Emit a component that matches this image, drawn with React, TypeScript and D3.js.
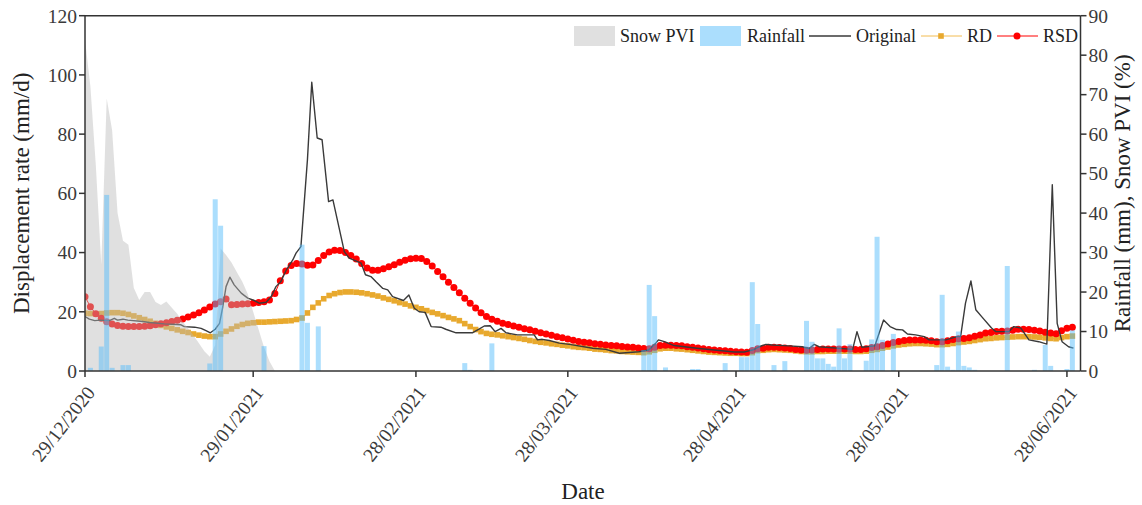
import React from "react";
import * as d3 from "d3";

// ---------- DATA ----------
const startDate = "29/12/2020";
const xTickLabels = ["29/12/2020", "29/01/2021", "28/02/2021", "28/03/2021", "28/04/2021", "28/05/2021", "28/06/2021"];
const leftTicks = [0, 20, 40, 60, 80, 100, 120];
const rightTicks = [0, 10, 20, 30, 40, 50, 60, 70, 80, 90];

// RD (daily, mm/d) from day 0 = 29/12/2020
const rdValues = [
  19.5, 19.4, 19.3, 19.4, 19.6, 19.7, 19.7, 19.5, 19.1, 18.6,
  18.0, 17.4, 16.8, 16.1, 15.4, 14.9, 14.4, 13.9, 13.4, 13.0,
  12.5, 12.1, 11.8, 11.6, 11.6, 12.5, 13.4, 14.2, 15.1, 15.7,
  16.1, 16.3, 16.5, 16.5, 16.6, 16.7, 16.8, 16.9, 17.0, 17.4,
  17.9, 19.6, 21.5, 23.0, 24.4, 25.5, 26.1, 26.5, 26.7, 26.7,
  26.6, 26.4, 26.1, 25.7, 25.3, 24.7, 24.2, 23.7, 23.1, 22.6,
  22.0, 21.5, 21.0, 20.4, 19.8, 19.3, 18.7, 18.1, 17.6, 17.0,
  16.0, 15.0, 14.0, 13.3, 12.7, 12.4, 12.2, 11.9, 11.6, 11.3,
  11.0, 10.7, 10.3, 10.0, 9.7, 9.5, 9.2, 9.0, 8.7, 8.5,
  8.2, 8.0, 7.9, 7.7, 7.4, 7.3, 7.1, 6.9, 6.8, 6.6,
  6.5, 6.4, 6.3, 6.2, 6.5, 7.0, 7.5, 7.7, 7.7, 7.5,
  7.4, 7.2, 7.0, 6.8, 6.6, 6.4, 6.3, 6.2, 6.1, 6.0,
  6.0, 5.9, 5.9, 6.2, 6.9, 7.0, 7.2, 7.3, 7.2, 7.1,
  7.0, 6.8, 6.6, 6.5, 6.5, 6.6, 6.6, 6.7, 6.7, 6.7,
  6.7, 6.7, 6.6, 6.6, 6.7, 7.0, 7.3, 7.7, 8.1, 8.5,
  8.8, 9.0, 9.2, 9.3, 9.3, 9.2, 9.1, 8.9, 8.9, 9.0,
  9.3, 9.6, 9.8, 10.0, 10.3, 10.6, 10.9, 11.0, 11.2, 11.3,
  11.4, 11.5, 11.6, 11.6, 11.6, 11.5, 11.4, 11.2, 11.0, 10.9,
  11.3, 11.6, 11.8,
];

// RSD (daily, mm/d)
const rsdValues = [
  25.1, 21.7, 19.3, 17.8, 16.6, 15.9, 15.4, 15.1, 15.0, 15.0,
  15.0, 15.1, 15.3, 15.6, 16.0, 16.3, 16.7, 17.1, 17.6, 18.2,
  18.9, 19.7, 20.6, 21.6, 22.6, 23.4, 24.3, 22.4, 22.5, 22.6,
  22.7, 22.9, 23.1, 23.4, 24.0, 26.2, 30.5, 33.8, 35.6, 36.3,
  36.1, 35.7, 35.8, 37.3, 39.0, 40.2, 40.8, 40.7, 40.0, 39.0,
  37.8, 36.3, 34.8, 34.0, 34.0, 34.5, 35.2, 35.9, 36.7, 37.4,
  37.9, 38.1, 38.0, 37.0, 35.5, 33.6, 31.8, 30.0, 28.2, 26.4,
  24.6, 22.9, 21.3, 19.7, 18.4, 17.5, 16.8, 16.1, 15.7, 15.2,
  14.8, 14.3, 13.9, 13.4, 12.9, 12.5, 12.1, 11.6, 11.2, 10.8,
  10.4, 10.0, 9.7, 9.5, 9.2, 9.0, 8.8, 8.6, 8.5, 8.3,
  8.1, 8.0, 7.8, 7.6, 7.5, 8.0, 8.6, 8.7, 8.7, 8.6,
  8.5, 8.2, 8.0, 7.8, 7.5, 7.3, 7.1, 6.9, 6.8, 6.7,
  6.5, 6.4, 6.3, 6.9, 7.5, 7.7, 8.0, 8.0, 7.9, 7.8,
  7.6, 7.3, 7.1, 7.0, 7.1, 7.3, 7.4, 7.4, 7.4, 7.4,
  7.4, 7.4, 7.3, 7.3, 7.5, 7.9, 8.2, 8.6, 9.1, 9.6,
  10.0, 10.3, 10.5, 10.5, 10.5, 10.4, 10.2, 9.9, 9.9, 10.2,
  10.6, 10.9, 11.0, 11.2, 11.7, 12.2, 12.8, 13.0, 13.3, 13.4,
  13.5, 13.8, 14.1, 14.1, 14.0, 13.8, 13.5, 13.1, 12.8, 12.6,
  13.6, 14.4, 14.8,
];

// Original (irregular sampling): day offset and value (mm/d)
const origDays = [
  0, 0.8, 1.8, 2.7, 4.5, 5.4, 6.0, 7.0, 7.9, 10.6, 11.9, 14.6, 17.7, 18.3, 20.2, 21.4, 22.3, 23.1, 24.0, 24.8,
  25.4, 26.0, 26.7, 27.5, 28.8, 30.0, 31.2, 32.1, 33.4, 34.3, 35.2, 36.1, 37.1, 38.3, 38.9, 39.8, 41.0, 41.8, 42.8, 43.7,
  44.9, 45.7, 47.8, 48.7, 50.9, 51.7, 52.7, 53.6, 54.9, 55.8, 56.7, 58.7, 59.7, 60.7, 61.6, 62.7, 63.8, 65.6, 66.5, 68.4,
  71.4, 72.7, 73.6, 74.7, 75.6, 76.7, 77.6, 79.7, 82.8, 83.4, 84.3, 85.6, 87.4, 89.3, 93.6, 96.0, 98.5, 102.1, 103.9, 105.2,
  105.7, 106.8, 108.6, 113.2, 119.7, 121.5, 123.3, 124.3, 125.5, 126.7, 129.8, 132.2, 133.5, 134.4, 135.3, 141.5, 142.3, 143.2, 145.6, 147.2,
  148.4, 149.6, 150.7, 151.6, 153.1, 154.7, 155.6, 158.7, 160.7, 161.4, 162.3, 163.3, 164.2, 165.4, 167.1, 167.9, 170.3, 171.2, 172.5, 174.0,
  175.8, 177.3, 178.3, 179.2, 180.1, 181.3, 182.2,
];
const origValues = [
  18.4, 17.5, 17.0, 17.2, 17.0, 17.8, 17.2, 17.5, 17.2, 16.7, 16.4, 15.9, 15.6, 15.0, 14.8, 14.4, 13.6, 12.9, 14.1, 16.1,
  21.7, 28.5, 31.7, 29.1, 26.3, 24.6, 23.8, 22.9, 23.2, 25.1, 28.5, 30.2, 34.1, 37.5, 39.8, 42.0, 71.3, 97.5, 78.7, 78.1,
  57.2, 57.8, 40.3, 38.1, 36.4, 32.5, 31.9, 30.2, 27.9, 27.4, 25.1, 23.8, 25.7, 21.2, 20.0, 19.8, 15.0, 14.8, 14.1, 12.9,
  12.9, 14.2, 15.2, 15.3, 13.3, 14.4, 12.9, 12.2, 12.2, 10.5, 10.7, 10.3, 9.4, 9.0, 7.7, 7.3, 6.0, 6.5, 7.1, 9.4,
  10.5, 9.9, 8.6, 7.6, 6.4, 6.4, 7.2, 8.2, 9.0, 8.8, 8.5, 8.2, 7.6, 9.0, 8.2, 7.3, 13.3, 8.0, 8.5, 17.2,
  15.0, 14.0, 13.9, 12.5, 12.2, 11.6, 10.5, 10.5, 11.6, 11.6, 22.9, 30.4, 20.7, 18.1, 14.5, 13.3, 13.3, 15.0, 14.5, 10.5,
  9.9, 9.1, 62.9, 16.1, 9.9, 8.2, 7.7,
];

// Snow PVI (%), daily from day 0
const snowValues = [
  84, 72, 52, 27, 69, 61, 40, 33, 32, 21,
  18, 20, 20, 17.5, 16.7, 17.6, 16, 14.5, 12.5, 10.8,
  9.0, 7.0, 5.0, 3.6, 6.5, 31, 29.4, 27.5, 25, 22.6,
  19.5, 15, 10.5, 6, 2.5, 0,
];

// Rainfall (mm): day offset and amount
const rainDays = [
  1, 3, 4, 5, 7, 8, 23, 24, 25, 33, 40, 41, 43, 70, 71, 75,
  103, 104, 105, 107, 112, 113, 118, 121, 122, 123, 124, 127, 129,
  133, 134, 135, 136, 137, 138, 139, 140, 141, 144, 145, 146, 147, 149,
  157, 158, 159, 160, 161, 162, 163, 164, 170, 175, 177, 178, 181, 182,
];
const rainValues = [
  0.8, 6.2, 44.6, 0.8, 1.5, 1.5, 1.9, 43.5, 36.8, 6.3, 32.0, 12.2, 11.3, 2.0, 0.3, 7.0,
  5.3, 21.8, 13.9, 0.9, 0.5, 0.5, 2.0, 3.5, 3.5, 22.5, 11.9, 1.5, 2.5,
  12.7, 7.4, 3.2, 3.2, 1.8, 1.1, 10.8, 3.2, 6.8, 2.6, 8.0, 34.0, 7.9, 9.4,
  1.5, 19.3, 1.1, 0.3, 10.0, 1.3, 0.9, 0.3, 26.6, 0.3, 6.6, 1.3, 0.5, 10.3,
];

// ---------- CHART ----------
const FONT = "'Liberation Serif', 'Times New Roman', serif";

export default function App() {
  const W = 1142, H = 505;
  const left = 85, right = 1080.5, top = 15.7, bottom = 371;
  const parse = d3.utcParse("%d/%m/%Y");
  const t0 = parse(startDate) as Date;
  const dayMs = 86400000;
  const toDate = (d: number) => new Date(t0.getTime() + d * dayMs);

  const x = d3.scaleUtc().domain([t0, toDate(183.5)]).range([left, right]);
  const yL = d3.scaleLinear().domain([0, 120]).range([bottom, top]);
  const yR = d3.scaleLinear().domain([0, 90]).range([bottom, top]);

  const rd = rdValues.map((v, i) => ({ t: toDate(i), v }));
  const rsd = rsdValues.map((v, i) => ({ t: toDate(i), v }));
  const orig = origDays.map((d, i) => ({ t: toDate(d), v: origValues[i] }));
  const snow = snowValues.map((v, i) => ({ t: toDate(i), v }));
  const rain = rainDays.map((d, i) => ({ t: toDate(d), v: rainValues[i] }));

  const lineL = d3.line<{ t: Date; v: number }>().x((d) => x(d.t)).y((d) => yL(d.v));
  const snowArea = d3
    .area<{ t: Date; v: number }>()
    .x((d) => x(d.t))
    .y0(yR(0))
    .y1((d) => yR(d.v));

  const xTicks = xTickLabels.map((s) => parse(s) as Date);
  const barW = 5;

  const snowFill = "rgb(184,184,184)";
  const snowOp = 0.44;
  const rainFill = "rgb(80,185,250)";
  const rainOp = 0.48;
  const rdColor = "#E8A92E";
  const rdLine = "#F2BC52";
  const rsdColor = "#FF0000";
  const origColor = "#3a3a3a";
  const axisColor = "#333";
  const textColor = "#3a3a3a";

  return (
    <svg
      width={W}
      height={H}
      style={{ position: "absolute", left: 0, top: 0, background: "#fff" }}
      fontFamily={FONT}
    >
      <defs>
        <clipPath id="plotclip">
          <rect x={left} y={top} width={right - left} height={bottom - top} />
        </clipPath>
      </defs>

      <g clipPath="url(#plotclip)">
        {/* RD */}
        <path d={lineL(rd) || ""} fill="none" stroke={rdLine} strokeWidth={1} />
        {rd.map((d, i) => (
          <rect key={"rd" + i} x={x(d.t) - 2.8} y={yL(d.v) - 2.8} width={5.6} height={5.6} fill={rdColor} />
        ))}
        {/* RSD */}
        <path d={lineL(rsd) || ""} fill="none" stroke={rsdColor} strokeWidth={1} />
        {rsd.map((d, i) => (
          <circle key={"rsd" + i} cx={x(d.t)} cy={yL(d.v)} r={3.5} fill={rsdColor} />
        ))}
        {/* Original */}
        <path d={lineL(orig) || ""} fill="none" stroke={origColor} strokeWidth={1.4} strokeLinejoin="round" />
        {/* Snow PVI */}
        <path d={snowArea(snow) || ""} fill={snowFill} fillOpacity={snowOp} />
        {/* Rainfall */}
        {rain.map((d, i) => (
          <rect
            key={"rain" + i}
            x={x(d.t) - barW / 2}
            y={yR(d.v)}
            width={barW}
            height={yR(0) - yR(d.v)}
            fill={rainFill}
            fillOpacity={rainOp}
          />
        ))}
      </g>

      {/* frame */}
      <line x1={left} x2={right} y1={top} y2={top} stroke={axisColor} strokeWidth={1.5} />
      <line x1={left} x2={right} y1={bottom} y2={bottom} stroke={axisColor} strokeWidth={1.5} />
      <line x1={left} x2={left} y1={top} y2={bottom} stroke={axisColor} strokeWidth={1.5} />
      <line x1={right} x2={right} y1={top} y2={bottom} stroke={axisColor} strokeWidth={1.5} />

      {/* left axis */}
      {leftTicks.map((t) => (
        <g key={"lt" + t}>
          <line x1={left - 6} x2={left} y1={yL(t)} y2={yL(t)} stroke={axisColor} strokeWidth={1.5} />
          <text x={left - 8} y={yL(t)} dy="0.35em" textAnchor="end" fontSize={19.5} fill={textColor}>
            {t}
          </text>
        </g>
      ))}
      {/* right axis */}
      {rightTicks.map((t) => (
        <g key={"rt" + t}>
          <line x1={right} x2={right + 6} y1={yR(t)} y2={yR(t)} stroke={axisColor} strokeWidth={1.5} />
          <text x={right + 8} y={yR(t)} dy="0.35em" textAnchor="start" fontSize={19.5} fill={textColor}>
            {t}
          </text>
        </g>
      ))}
      {/* bottom axis */}
      {xTicks.map((t, i) => (
        <g key={"xt" + i}>
          <line x1={x(t)} x2={x(t)} y1={bottom} y2={bottom + 6} stroke={axisColor} strokeWidth={1.5} />
          <text
            transform={`translate(${x(t) + 11},${bottom + 22}) rotate(-52)`}
            textAnchor="end"
            fontSize={19.5}
            fill={textColor}
          >
            {xTickLabels[i]}
          </text>
        </g>
      ))}

      {/* axis titles */}
      <text x={583} y={499} textAnchor="middle" fontSize={23} fill="#222">
        Date
      </text>
      <text transform={`translate(29,${(top + bottom) / 2}) rotate(-90)`} textAnchor="middle" fontSize={23} fill="#222">
        Displacement rate (mm/d)
      </text>
      <text transform={`translate(1130,${(top + bottom) / 2}) rotate(-90)`} textAnchor="middle" fontSize={23} fill="#222">
        Rainfall (mm), Snow PVI (%)
      </text>

      {/* legend */}
      <g fontSize={18} fill="#222">
        <rect x={574} y={26} width={41} height={20} fill={snowFill} fillOpacity={snowOp} />
        <text x={620} y={42}>Snow PVI</text>
        <rect x={700} y={26} width={41} height={20} fill={rainFill} fillOpacity={rainOp} />
        <text x={747} y={42}>Rainfall</text>
        <line x1={809} x2={851} y1={36} y2={36} stroke={origColor} strokeWidth={1.4} />
        <text x={856} y={42}>Original</text>
        <line x1={921} x2={962} y1={36} y2={36} stroke={rdLine} strokeWidth={1} />
        <rect x={941 - 2.8} y={36 - 2.8} width={5.6} height={5.6} fill={rdColor} />
        <text x={967} y={42}>RD</text>
        <line x1={997} x2={1038} y1={36} y2={36} stroke={rsdColor} strokeWidth={1} />
        <circle cx={1017} cy={36} r={3.5} fill={rsdColor} />
        <text x={1043} y={42}>RSD</text>
      </g>
    </svg>
  );
}
